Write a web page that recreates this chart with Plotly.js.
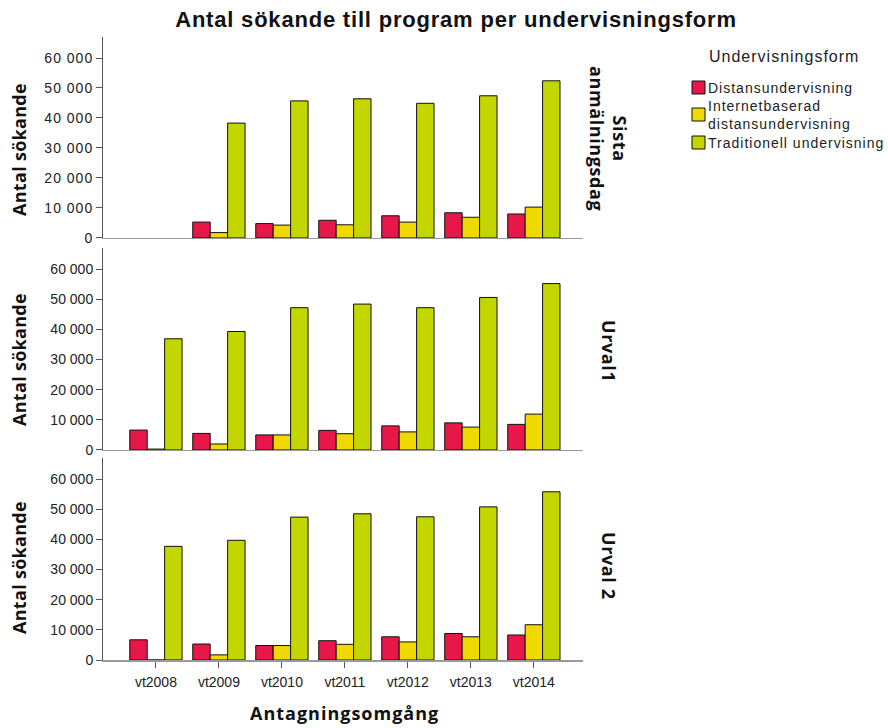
<!DOCTYPE html>
<html>
<head>
<meta charset="utf-8">
<script src="https://cdn.plot.ly/plotly-3.0.1.min.js"></script>
<style>
html,body{margin:0;padding:0;background:#fff;}
#chart{width:888px;height:728px;}
.xtick text, .ytick text { letter-spacing: 1px; }
</style>
</head>
<body>
<div id="chart"></div>
<script>
const categories = ['vt2008','vt2009','vt2010','vt2011','vt2012','vt2013','vt2014'];
const seriesNames = ['Distansundervisning','Internetbaserad<br>distansundervisning','Traditionell undervisning'];
const panelNames = ['Sista<br>anmälningsdag','Urval1','Urval 2'];

const sistaDistans   = [null, 5300, 4800, 5900, 7400, 8400, 8000];
const sistaInternet  = [null, 1800, 4300, 4400, 5300, 6900, 10300];
const sistaTrad      = [null, 38300, 45700, 46400, 44900, 47400, 52400];

const urval1Distans  = [6600, 5500, 5000, 6500, 8000, 9000, 8500];
const urval1Internet = [300, 2000, 5000, 5400, 6000, 7600, 11900];
const urval1Trad     = [36900, 39300, 47200, 48400, 47200, 50600, 55200];

const urval2Distans  = [6700, 5300, 4800, 6400, 7700, 8800, 8300];
const urval2Internet = [0, 1700, 4800, 5200, 6000, 7700, 11700];
const urval2Trad     = [37700, 39700, 47400, 48500, 47500, 50800, 55800];

const colors = ['#E8174A', '#EFD900', '#C3D600'];
const panels = [
  [sistaDistans, sistaInternet, sistaTrad],
  [urval1Distans, urval1Internet, urval1Trad],
  [urval2Distans, urval2Internet, urval2Trad]
];

const traces = [];
panels.forEach((pd, p) => {
  pd.forEach((vals, s) => {
    traces.push({
      type: 'bar',
      x: categories,
      y: vals,
      name: seriesNames[s],
      showlegend: false,
      xaxis: p === 0 ? 'x' : 'x' + (p + 1),
      yaxis: p === 0 ? 'y' : 'y' + (p + 1),
      marker: {color: colors[s], line: {color: '#111', width: 1}}
    });
  });
});

const arial = 'Arial, Liberation Sans, sans-serif';
const tickFont = {family: arial, size: 14, color: '#222'};
function yax(domain) {
  return {
    domain: domain, range: [0, 67000], tickvals: [0,10000,20000,30000,40000,50000,60000],
    tickformat: ',d', showline: true, linecolor: '#555', linewidth: 1,
    ticks: 'outside', ticklen: 6, tickcolor: '#555', showgrid: false, zeroline: false,
    tickfont: tickFont, fixedrange: true
  };
}
function xax(anchor, labels) {
  return {
    anchor: anchor, domain: [0, 1], range: [-0.84, 6.78], type: 'category',
    showline: true, linecolor: '#999', linewidth: 1.5, showgrid: false, zeroline: false,
    ticks: labels ? 'outside' : '', ticklen: 6, tickcolor: '#555',
    showticklabels: labels, tickfont: tickFont, fixedrange: true, ticklabelstandoff: 3
  };
}

// pixel -> paper helpers (plot area 103..583 x, 37..660 y)
const px = v => (v - 103) / 480;
const py = v => (660 - v) / 623;
const sp = (t, s) => '<span style="letter-spacing:' + s + 'px">' + t + '</span>';

const boldFont = {family: 'Open Sans, sans-serif', size: 18, color: '#111', weight: 'bold'};
const annotations = [];
const shapes = [];
const labelCentersY = [150, 360, 568];
const facetCentersY = [138, 351, 566];
labelCentersY.forEach((cy, i) => {
  annotations.push({
    xref: 'paper', yref: 'paper', x: px(19), y: py(cy),
    text: sp('<b>Antal sökande</b>', 0.3), textangle: -90, showarrow: false,
    font: boldFont, xanchor: 'center', yanchor: 'middle'
  });
  annotations.push({
    xref: 'paper', yref: 'paper', x: px(609), y: py(facetCentersY[i]),
    text: sp('<b>' + panelNames[i] + '</b>', 0.6), textangle: 90, showarrow: false,
    font: boldFont, xanchor: 'center', yanchor: 'middle'
  });
});
annotations.push({
  xref: 'paper', yref: 'paper', x: px(344), y: py(713),
  text: sp('<b>Antagningsomgång</b>', 1), showarrow: false,
  font: {family: 'Open Sans, sans-serif', size: 18, color: '#111', weight: 'bold'},
  xanchor: 'center', yanchor: 'middle'
});

// legend drawn manually
annotations.push({
  xref: 'paper', yref: 'paper', x: px(707), y: py(57),
  text: sp('Undervisningsform', 1), showarrow: false,
  font: {family: arial, size: 16, color: '#222'},
  xanchor: 'left', yanchor: 'middle'
});
const legendY = [87.5, 114.5, 142.5];
seriesNames.forEach((n, i) => {
  shapes.push({
    type: 'rect', xref: 'paper', yref: 'paper',
    x0: px(692), x1: px(705), y0: py(legendY[i] - 6.5), y1: py(legendY[i] + 6.5),
    fillcolor: colors[i], line: {color: '#111', width: 1}
  });
  annotations.push({
    xref: 'paper', yref: 'paper', x: px(706), y: py(legendY[i]),
    text: sp(n, 1), showarrow: false, align: 'left',
    font: {family: arial, size: 14, color: '#222'},
    xanchor: 'left', yanchor: 'middle'
  });
});

const layout = {
  width: 888, height: 728,
  margin: {l: 103, r: 305, t: 37, b: 68},
  paper_bgcolor: '#fff', plot_bgcolor: '#fff',
  separators: ', ',
  title: {
    text: sp('<b>Antal sökande till program per undervisningsform</b>', 0.8),
    font: {family: arial, size: 22, color: '#111'},
    x: 456 / 888, xanchor: 'center', xref: 'container', y: 1 - 19 / 728, yref: 'container', yanchor: 'middle'
  },
  barmode: 'group', bargap: 0.17, bargroupgap: 0,
  xaxis: xax('y', false),
  xaxis2: xax('y2', false),
  xaxis3: xax('y3', true),
  yaxis: yax([0.6774, 1]),
  yaxis2: yax([0.3371, 0.6613]),
  yaxis3: yax([0, 0.3242]),
  showlegend: false,
  annotations: annotations,
  shapes: shapes
};

Plotly.newPlot('chart', traces, layout, {displayModeBar: false, staticPlot: true});
</script>
</body>
</html>
